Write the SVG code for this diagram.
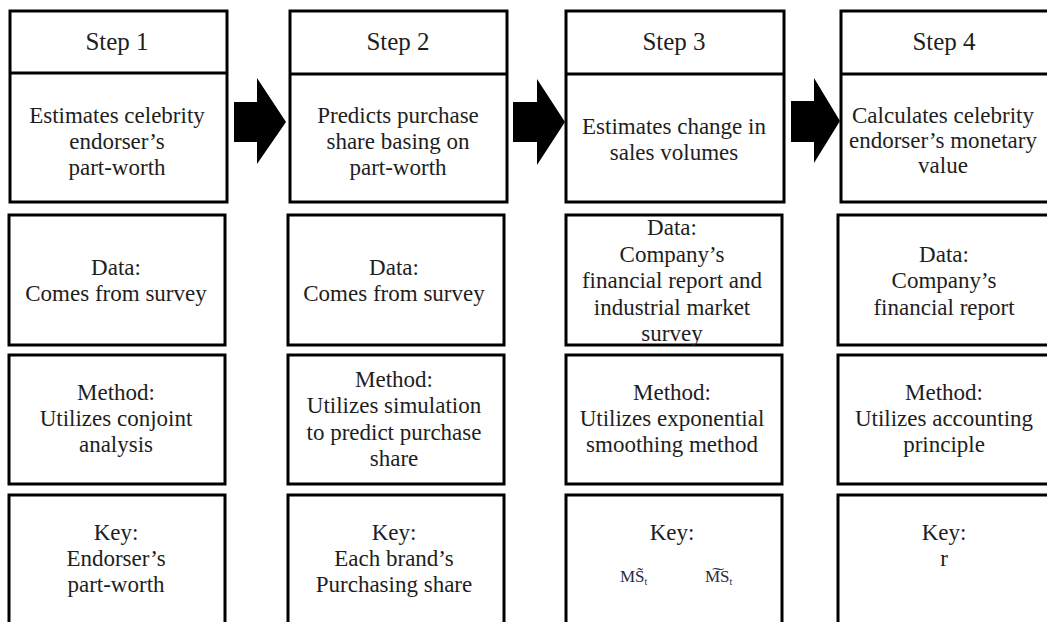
<svg xmlns="http://www.w3.org/2000/svg" width="1047" height="622" viewBox="0 0 1047 622" font-family="'Liberation Serif', 'Times New Roman', 'DejaVu Serif', serif">
<style>
.box{fill:#fff;stroke:#000;stroke-width:3}
.div{stroke:#000;stroke-width:3}
.t{font-family:'Liberation Serif','Times New Roman','DejaVu Serif',serif;font-size:23px;fill:#1e1e1e;text-anchor:middle}
.step{font-size:25px}
.sym{font-size:17px;fill:#2a2a4a;text-anchor:start}
.sub{font-size:10px}
.arrow{fill:#000}
</style>
<rect width="1047" height="622" fill="#fff"/>
<g id="connectors">
<path class="arrow" d="M234,102 H257 V78 L286,122 L257,164 V142 H234 Z"/>
<path class="arrow" d="M513,102 H537 V79 L565,122 L537,165 V142 H513 Z"/>
<path class="arrow" d="M791,101 H814 V78 L840,121 L814,163 V142 H791 Z"/>
</g>
<g id="step1">
<rect class="box" x="10" y="11" width="217" height="191"/>
<line class="div" x1="10" y1="73" x2="227" y2="73"/>
<text class="t step" x="117" y="50">Step 1</text>
<text class="t" x="117" y="123">Estimates celebrity</text>
<text class="t" x="117" y="149">endorser’s</text>
<text class="t" x="117" y="175">part-worth</text>
</g>
<g id="data1">
<rect class="box" x="9" y="215" width="216" height="130"/>
<text class="t" x="116" y="275">Data:</text>
<text class="t" x="116" y="301">Comes from survey</text>
</g>
<g id="method1">
<rect class="box" x="9" y="355" width="216" height="129"/>
<text class="t" x="116" y="400">Method:</text>
<text class="t" x="116" y="426">Utilizes  conjoint</text>
<text class="t" x="116" y="452">analysis</text>
</g>
<g id="key1">
<rect class="box" x="9" y="495" width="216" height="150"/>
<text class="t" x="116" y="540">Key:</text>
<text class="t" x="116" y="566">Endorser’s</text>
<text class="t" x="116" y="592">part-worth</text>
</g>
<g id="step2">
<rect class="box" x="290" y="11" width="217" height="191"/>
<line class="div" x1="290" y1="74" x2="507" y2="74"/>
<text class="t step" x="398" y="50">Step 2</text>
<text class="t" x="398" y="123">Predicts purchase</text>
<text class="t" x="398" y="149">share basing on</text>
<text class="t" x="398" y="175">part-worth</text>
</g>
<g id="data2">
<rect class="box" x="288" y="215" width="216" height="130"/>
<text class="t" x="394" y="275">Data:</text>
<text class="t" x="394" y="301">Comes from survey</text>
</g>
<g id="method2">
<rect class="box" x="288" y="355" width="216" height="129"/>
<text class="t" x="394" y="387">Method:</text>
<text class="t" x="394" y="413">Utilizes  simulation</text>
<text class="t" x="394" y="440">to predict purchase</text>
<text class="t" x="394" y="466">share</text>
</g>
<g id="key2">
<rect class="box" x="288" y="495" width="216" height="150"/>
<text class="t" x="394" y="540">Key:</text>
<text class="t" x="394" y="566">Each brand’s</text>
<text class="t" x="394" y="592">Purchasing share</text>
</g>
<g id="step3">
<rect class="box" x="566" y="11" width="218" height="191"/>
<line class="div" x1="566" y1="74" x2="784" y2="74"/>
<text class="t step" x="674" y="50">Step 3</text>
<text class="t" x="674" y="134">Estimates change in</text>
<text class="t" x="674" y="160">sales volumes</text>
</g>
<g id="data3">
<rect class="box" x="566" y="215" width="216" height="130"/>
<text class="t" x="672" y="235">Data:</text>
<text class="t" x="672" y="262">Company’s</text>
<text class="t" x="672" y="288">financial  report and</text>
<text class="t" x="672" y="315">industrial  market</text>
<text class="t" x="672" y="341">survey</text>
</g>
<g id="method3">
<rect class="box" x="566" y="355" width="216" height="129"/>
<text class="t" x="672" y="400">Method:</text>
<text class="t" x="672" y="426">Utilizes  exponential</text>
<text class="t" x="672" y="452">smoothing method</text>
</g>
<g id="key3">
<rect class="box" x="566" y="495" width="216" height="150"/>
<text class="t" x="672" y="540">Key:</text>
<text class="t sym" x="620" y="582">MS&#x303;<tspan class="sub" dy="3">t</tspan></text>
<text class="t sym" x="705" y="582">M&#x360;S<tspan class="sub" dy="3">t</tspan></text>
</g>
<g id="step4">
<rect class="box" x="841" y="11" width="217" height="191"/>
<line class="div" x1="841" y1="74" x2="1058" y2="74"/>
<text class="t step" x="944" y="50">Step 4</text>
<text class="t" x="943" y="123">Calculates celebrity</text>
<text class="t" x="943" y="148">endorser’s monetary</text>
<text class="t" x="943" y="173">value</text>
</g>
<g id="data4">
<rect class="box" x="838" y="215" width="216" height="130"/>
<text class="t" x="944" y="262">Data:</text>
<text class="t" x="944" y="288">Company’s</text>
<text class="t" x="944" y="315">financial  report</text>
</g>
<g id="method4">
<rect class="box" x="838" y="355" width="216" height="129"/>
<text class="t" x="944" y="400">Method:</text>
<text class="t" x="944" y="426">Utilizes  accounting</text>
<text class="t" x="944" y="452">principle</text>
</g>
<g id="key4">
<rect class="box" x="838" y="495" width="216" height="150"/>
<text class="t" x="944" y="540">Key:</text>
<text class="t" x="944" y="566">r</text>
</g>
</svg>
